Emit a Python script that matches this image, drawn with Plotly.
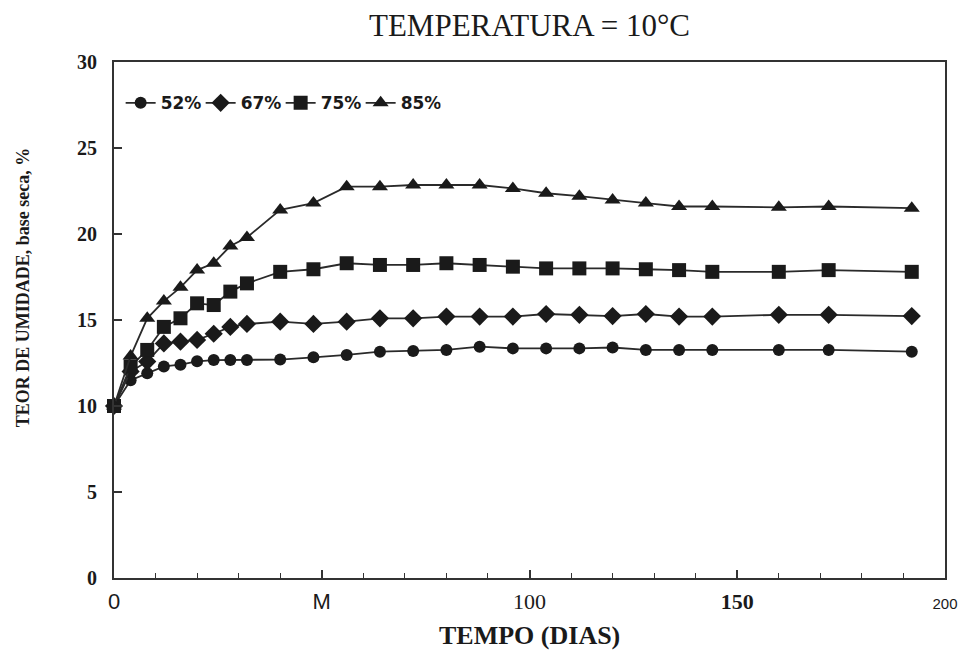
import plotly.graph_objects as go

# ---- data ----
days = [0, 4, 8, 12, 16, 20, 24, 28, 32, 40, 48, 56, 64, 72, 80, 88, 96,
        104, 112, 120, 128, 136, 144, 160, 172, 192]

ur52 = [10, 11.5, 11.9, 12.3, 12.4, 12.6, 12.67, 12.67, 12.67, 12.7, 12.83,
        12.97, 13.16, 13.2, 13.26, 13.45, 13.35, 13.35, 13.35, 13.4, 13.26,
        13.26, 13.26, 13.26, 13.26, 13.16]
ur67 = [10, 12.0, 12.58, 13.64, 13.74, 13.84, 14.2, 14.6, 14.77, 14.9, 14.77,
        14.9, 15.1, 15.1, 15.2, 15.2, 15.2, 15.35, 15.3, 15.23, 15.35, 15.2,
        15.2, 15.3, 15.3, 15.23]
ur75 = [10, 12.3, 13.26, 14.6, 15.1, 15.97, 15.87, 16.65, 17.13, 17.8, 17.95,
        18.3, 18.2, 18.2, 18.3, 18.2, 18.1, 18.0, 18.0, 18.0, 17.95, 17.9,
        17.8, 17.8, 17.9, 17.8]
ur85 = [10, 12.9, 15.1, 16.1, 16.9, 17.9, 18.3, 19.3, 19.8, 21.4, 21.8, 22.75,
        22.75, 22.85, 22.85, 22.85, 22.65, 22.37, 22.2, 21.98, 21.8, 21.6,
        21.6, 21.55, 21.6, 21.5]

series_names = ["52%", "67%", "75%", "85%"]
x_tickvals = [0, 50, 100, 150, 200]
x_ticktext = ["0", "M", "100", "150", "200"]
y_tickvals = [0, 5, 10, 15, 20, 25, 30]

# ---- styling ----
INK = "#1a1a1a"
symbols = ["circle", "diamond", "square", "triangle-up"]
sizes = [12, 14, 14, 14]
series = [ur52, ur67, ur75, ur85]

fig = go.Figure()
for name, ys, sym, sz in zip(series_names, series, symbols, sizes):
    fig.add_trace(go.Scatter(
        x=days, y=ys, name=name, mode="lines+markers",
        line=dict(color="#2a2a2a", width=1.8),
        marker=dict(symbol=sym, size=sz, color=INK, line=dict(width=0)),
        cliponaxis=False,
    ))

serif = "Liberation Serif, Times New Roman, serif"
sans = "Liberation Sans, Arial, sans-serif"

x_text_styled = []
for t in x_ticktext:
    if t in ("100", "150"):
        w = "bold" if t == "150" else "normal"
        x_text_styled.append(
            f'<span style="font-family:{serif};font-weight:{w}">{t}</span>')
    elif t == "200":
        x_text_styled.append(
            f'<span style="font-family:{sans};font-size:15px">{t}</span>')
    else:
        x_text_styled.append(f'<span style="font-family:{sans}">{t}</span>')

# page body has an 8px margin: keep the whole page within the 978x661 window
W, H = 962, 645
PW, PH = 843, 516  # plot area size in px
fig.update_layout(
    width=W, height=H,
    margin=dict(l=106, r=13, t=54, b=75),
    paper_bgcolor="white", plot_bgcolor="white",
    showlegend=True,
    title=dict(text="TEMPERATURA = 10°C", x=0.5, xref="paper", xanchor="center",
               y=1 - 6 / H, yref="container", yanchor="top",
               font=dict(family=serif, size=31, color=INK)),
    legend=dict(orientation="h", x=0.008, y=0.92, xanchor="left", yanchor="middle",
                bgcolor="rgba(0,0,0,0)", itemwidth=30, entrywidth=35,
                entrywidthmode="pixels", tracegroupgap=0,
                font=dict(family="DejaVu Sans, Liberation Sans, sans-serif",
                          size=17, color=INK, weight="bold")),
    xaxis=dict(range=[0, 200], showgrid=False, zeroline=False,
               showline=True, linecolor="#333", linewidth=2, mirror=True,
               tickmode="array", tickvals=x_tickvals, ticktext=x_text_styled,
               ticks="inside", ticklen=8, tickwidth=1.5, tickcolor="#333",
               minor=dict(dtick=10, ticks="inside", ticklen=5, tickwidth=1.2, tickcolor="#333"),
               ticklabelstandoff=3,
               tickfont=dict(family=sans, size=22, color=INK)),
    yaxis=dict(range=[0, 30], showgrid=False, zeroline=False,
               showline=True, linecolor="#333", linewidth=2, mirror=True,
               tickmode="array", tickvals=y_tickvals,
               ticks="inside", ticklen=8, tickwidth=1.5, tickcolor="#333",
               ticklabelstandoff=11,
               tickfont=dict(family=serif, size=20, color=INK, weight="bold")),
    annotations=[
        dict(text="TEMPO (DIAS)", xref="paper", yref="paper", x=0.5, y=-74 / PH,
             xanchor="center", yanchor="bottom", showarrow=False,
             font=dict(family=serif, size=26, color=INK, weight="bold")),
        dict(text="TEOR DE UMIDADE, base seca, %", xref="paper", yref="paper",
             x=(22 - 114) / PW, y=(578 - 287) / PH, textangle=-90,
             xanchor="center", yanchor="middle", showarrow=False,
             font=dict(family=serif, size=18, color=INK, weight="bold")),
    ],
)

fig.write_html("out.html")
